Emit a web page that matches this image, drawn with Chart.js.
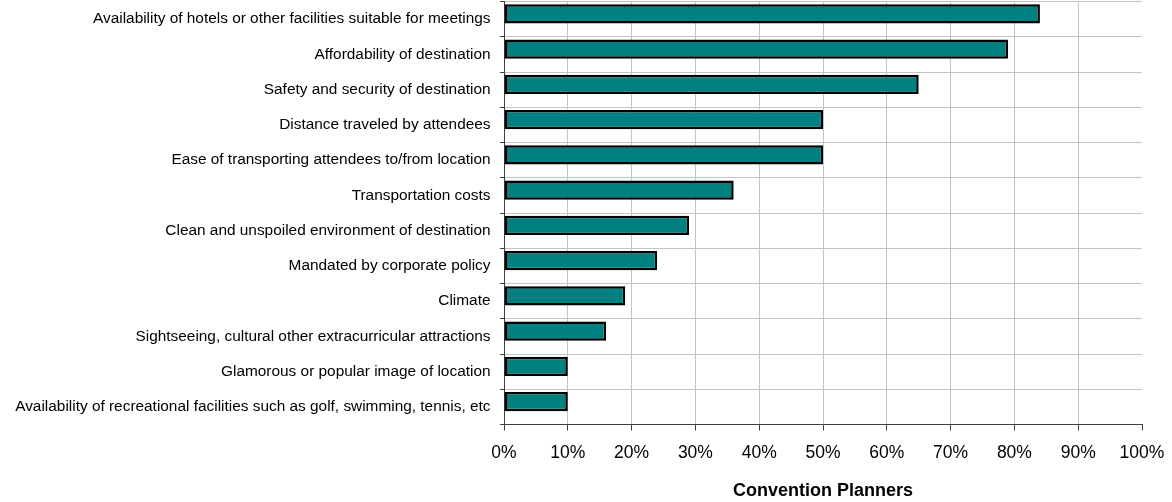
<!DOCTYPE html>
<html>
<head>
<meta charset="utf-8">
<title>Convention Planners</title>
<script src="https://cdn.jsdelivr.net/npm/chart.js@4/dist/chart.umd.min.js"></script>
<style>
  html, body { margin: 0; padding: 0; background: #fff; }
  #wrap { width: 1172px; height: 502px; position: relative; }
</style>
</head>
<body>
<div id="wrap"><canvas id="chart"></canvas></div>
<script>
// Site selection factors, top to bottom
const categories = [
    'Availability of hotels or other facilities suitable for meetings',
    'Affordability of destination',
    'Safety and security of destination',
    'Distance traveled by attendees',
    'Ease of transporting attendees to/from location',
    'Transportation costs',
    'Clean and unspoiled environment of destination',
    'Mandated by corporate policy',
    'Climate',
    'Sightseeing, cultural other extracurricular attractions',
    'Glamorous or popular image of location',
    'Availability of recreational facilities such as golf, swimming, tennis, etc'
];

// Share of convention planners (%)
const plannerShares = [84, 79, 65, 50, 50, 36, 29, 24, 19, 16, 10, 10];

// Empty second series, keeps the bars sitting in the upper part of each row
const spacerSeries = [null, null, null, null, null, null, null, null, null, null, null, null];

const xTicks = [0, 10, 20, 30, 40, 50, 60, 70, 80, 90, 100];
const xTitle = 'Convention Planners';

const FONT = '"Liberation Sans", Arial, Helvetica, sans-serif';
const GRID = '#c4c4c4';
const AXIS = '#404040';

new Chart(document.getElementById('chart').getContext('2d'), {
    type: 'bar',
    data: {
        labels: categories,
        datasets: [
            {
                data: plannerShares,
                backgroundColor: '#008080',
                borderColor: '#000000',
                borderWidth: 2.5,
                borderSkipped: false,
                categoryPercentage: 0.6,
                barPercentage: 1.83
            },
            {
                data: spacerSeries,
                backgroundColor: 'rgba(0,0,0,0)',
                borderWidth: 0,
                categoryPercentage: 0.6,
                barPercentage: 1.83
            }
        ]
    },
    options: {
        indexAxis: 'y',
        responsive: true,
        maintainAspectRatio: false,
        animation: false,
        layout: {
            padding: { top: 1.5, right: 30, bottom: 0, left: 0 }
        },
        plugins: {
            legend: { display: false },
            tooltip: { enabled: false }
        },
        scales: {
            x: {
                min: 0,
                max: 100,
                afterBuildTicks: scale => {
                    scale.ticks = xTicks.map(v => ({ value: v }));
                },
                afterFit: scale => {
                    scale.height = 77.5;
                    scale.paddingLeft = 0;
                    scale.paddingRight = 0;
                },
                border: { display: true, color: AXIS, width: 1 },
                grid: {
                    color: ctx => (ctx.tick && ctx.tick.value === 100) ? 'rgba(0,0,0,0)' : GRID,
                    tickColor: AXIS,
                    tickLength: 6,
                    drawTicks: true
                },
                ticks: {
                    padding: 12,
                    color: '#000',
                    font: { family: FONT, size: 17.5 },
                    callback: v => v + '%'
                },
                title: {
                    display: true,
                    text: xTitle,
                    color: '#000',
                    font: { family: FONT, size: 18, weight: 'bold' },
                    padding: { top: 0, bottom: 0 }
                }
            },
            y: {
                afterFit: scale => {
                    scale.width = 504;
                    scale.paddingTop = 0;
                    scale.paddingBottom = 0;
                },
                border: { display: true, color: AXIS, width: 1 },
                grid: {
                    color: GRID,
                    tickColor: AXIS,
                    tickLength: 4,
                    offset: true
                },
                ticks: {
                    padding: 9.5,
                    color: '#000',
                    autoSkip: false,
                    font: { family: FONT, size: 15.4 }
                }
            }
        }
    }
});
</script>
</body>
</html>
